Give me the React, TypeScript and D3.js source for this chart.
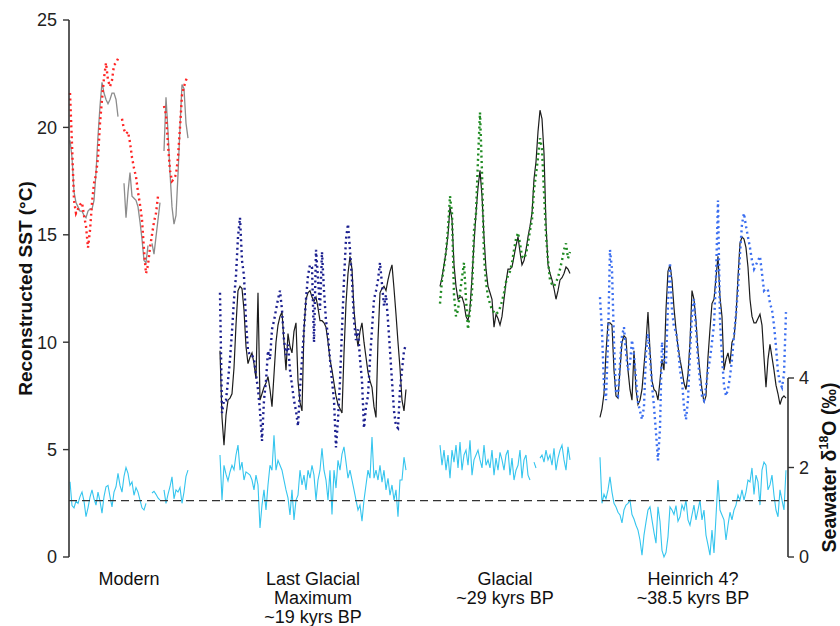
import * as d3 from "d3";

// Panels along the record (arbitrary record-position units, 0..100)
const panelLabels = [
  ["Modern"],
  ["Last Glacial", "Maximum", "~19 kyrs BP"],
  ["Glacial", "~29 kyrs BP"],
  ["Heinrich 4?", "~38.5 kyrs BP"],
];
const panelStart = [0.14, 21.0, 51.6, 73.85];
const panelEnd = [16.55, 46.87, 69.68, 99.72];

const sstTicks = [0, 5, 10, 15, 20, 25];
const d18Ticks = [0, 2, 4];
const referenceD18 = 1.26;

type V = number | null;

// Modern
const modernRed: V[] = [
  21.6, 19.2, 16.6, 16.0, 16.2, 16.4, 16.5, 15.9, 15.4, 14.4,
  15.2, 16.5, 17.4, 17.8, 18.6, 20.2, 21.3, 22.3, 23.0, 22.2,
  21.9, 22.2, 22.9, 23.0, 23.2, null, 20.4, 19.9, 19.7, 19.8,
  19.3, 18.6, 18.1, 17.7, 17.0, 16.4, 15.7, 14.3, 13.2, 13.6,
  14.4, 15.0, 15.6, 16.0, 16.8, null, null, 21.0, 20.6, 19.2,
  18.0, 17.5, 17.6, 17.8, 18.6, 20.0, 21.5, 21.9, 22.2, 22.4,
];
const modernGray: V[] = [
  19.4, 18.6, 17.0, 16.5, 16.3, 16.1, 16.1, 15.9, 15.8, 16.1,
  16.2, 16.2, 16.6, 17.9, 19.6, 21.0, 22.1, 21.6, 21.3, 21.1,
  21.3, 21.6, 21.6, 21.3, 20.5, null, null, 17.4, 15.8, 17.0,
  17.9, 16.8, 16.7, 16.6, 16.3, 15.6, 14.8, 13.8, 13.7, 14.5,
  null, 14.6, 14.1, 14.9, 15.7, 16.5, null, 18.9, 21.4, 19.8,
  17.9, 16.3, 15.5, 15.9, 17.8, 20.0, 22.0, 21.8, 20.2, 19.5,
];
const modernCyan: V[] = [
  1.68, 1.15, 1.1, 1.25, 1.2, 1.35, 1.45, 1.25, 0.9, 1.1,
  1.34, 1.5, 1.3, 1.16, 1.45, 1.25, 0.98, 1.35, 1.57, 1.6,
  1.35, 1.12, 1.45, 1.57, 1.87, 1.6, 1.45, 1.8, 2.0, 1.87,
  1.6, 1.68, 1.38, 1.55, 1.45, 1.27, 1.1, 1.05, 1.2, null,
  null, 1.43, 1.47, 1.4, 1.32, 1.27, null, 1.5, 1.2, 1.4,
  1.57, 1.79, 1.3, 1.5, 1.45, 1.55, 1.2, 1.45, 1.8, 1.94,
];

// Last Glacial Maximum
const lgmNavy: V[] = [
  12.3, 6.7, 7.3, 7.3, 8.2, 9.2, 10.5, 12.0, 13.1, 14.9,
  15.8, 13.8, 13.1, 11.0, 9.6, 9.4, 9.4, 9.2, 8.5, 7.8,
  6.8, 5.4, 7.3, 8.2, 9.6, 9.2, 10.6, 11.0, 11.5, 12.0,
  12.4, 11.5, 10.1, 9.4, 9.9, 8.7, 8.0, 7.3, 6.8, 6.1,
  7.8, 9.2, 10.6, 12.0, 13.1, 13.6, 13.5, 10.0, 14.3, 13.0,
  11.5, 14.2, 12.4, 11.0, 10.3, 9.2, 8.2, 7.3, 5.1, 6.4,
  8.2, 10.6, 12.9, 14.8, 15.5, 14.3, 12.9, 11.0, 10.1, 10.6,
  9.2, 8.2, 6.0, 7.0, 7.5, 9.2, 10.6, 12.0, 12.4, 12.9,
  13.7, 12.7, 11.7, 12.2, 11.0, 9.6, 8.2, 6.8, 6.1, 6.0,
  7.8, 8.7, 9.6, 9.9,
];
const lgmBlack: V[] = [
  9.6, 6.5, 5.2, 6.6, 7.3, 7.4, 7.6, 8.8, 10.8, 12.4,
  12.6, 12.5, 11.5, 9.8, 9.0, 9.3, 9.5, 9.0, 8.3, 12.3,
  7.3, 7.6, 7.9, 8.1, 8.4, 7.8, 7.0, 8.5, 10.0, 10.8,
  11.2, 11.4, 10.0, 8.7, 10.4, 9.8, 9.5, 10.5, 10.9, 8.2,
  7.2, 6.8, 10.6, 12.0, 12.3, 12.4, 12.1, 11.9, 12.1, 11.6,
  11.0, 11.0, 10.9, 10.7, 10.0, 9.2, 8.7, 8.1, 7.5, 7.1,
  6.9, 6.7, 9.5, 11.8, 13.2, 14.0, 13.4, 11.5, 10.5, 9.8,
  10.5, 10.9, 10.0, 9.3, 8.6, 8.2, 7.9, 7.0, 6.5, 10.1,
  12.3, 12.5, 12.6, 12.4, 12.9, 13.3, 13.6, 12.5, 11.3, 10.0,
  8.8, 7.3, 6.8, 7.8,
];
const lgmCyan: V[] = [
  2.28, 1.27, 2.05, 1.85, 1.7, 1.9, 2.05, 1.95, 2.28, 2.5,
  1.94, 2.12, 1.72, 1.9, 1.87, 1.83, 1.72, 1.5, 1.83, 1.61,
  0.65, 1.16, 1.5, 1.05, 1.61, 2.05, 1.94, 2.72, 1.94, 2.16,
  2.05, 1.94, 1.72, 1.5, 1.32, 0.94, 1.5, 0.83, 1.27, 1.38,
  1.94, 1.61, 1.83, 1.5, 1.94, 1.76, 2.05, 1.83, 1.27, 1.72,
  1.94, 2.43, 1.94, 1.72, 1.27, 1.94, 0.95, 1.94, 1.54, 2.16,
  1.94, 2.3, 2.46, 2.12, 1.76, 1.94, 1.72, 1.5, 1.27, 1.05,
  1.16, 0.8, 1.27, 1.61, 1.94, 1.76, 2.68, 1.76, 1.94, 1.72,
  2.05, 1.67, 1.94, 1.5, 1.76, 1.38, 1.61, 1.27, 1.5, 0.9,
  1.72, 1.72, 2.23, 1.94,
];

// Glacial ~29 kyrs BP
const glacialGreen: V[] = [
  11.8, 12.9, 13.5, 14.2, 15.3, 16.8, 16.0, 12.2, 11.2, 11.5,
  12.3, 13.0, 13.7, 12.0, 10.6, 11.5, 12.3, 15.2, 16.0, 18.5,
  20.7, 17.9, 14.0, 12.8, 12.1, 11.8, 11.5, 11.4, 11.3, 11.4,
  11.6, 11.9, 12.3, 12.8, 13.1, 13.3, 13.7, 14.3, 14.8, 15.1,
  14.6, 14.0, 13.9, 14.1, 14.6, 15.2, 15.7, 17.1, 17.8, 18.6,
  19.5, 19.0, 17.0, 15.0, 13.8, 12.9, 12.7, 12.6, 12.8, 13.0,
  13.4, 13.8, 14.3, 14.6, 13.9, 14.2,
];
const glacialBlack: V[] = [
  12.6, 13.0, 13.6, 14.2, 15.0, 16.3, 15.7, 13.6, 12.6, 12.0,
  12.1, 12.1, 11.8, 11.2, 11.0, 11.6, 13.0, 14.6, 16.0, 17.2,
  18.0, 16.8, 14.9, 13.4, 12.6, 12.3, 12.0, 10.7, 11.3, 11.1,
  10.8, 11.2, 12.0, 12.8, 13.4, 13.4, 13.5, 14.0, 14.5, 14.9,
  14.2, 13.6, 13.8, 14.3, 14.9, 15.4, 16.0, 17.6, 18.4, 19.8,
  20.8, 20.4, 18.8, 15.5, 13.6, 13.2, 12.9, 12.5, 12.0, 12.4,
  12.9, 13.0, 13.2, 13.5, 13.4, 13.2,
];
const glacialCyan: V[] = [
  2.5, 2.05, 2.39, 1.94, 2.28, 1.76, 2.39, 2.12, 2.5, 1.99,
  2.57, 1.94, 2.28, 2.39, 2.05, 2.61, 1.83, 2.17, 2.28, 2.39,
  2.17, 1.99, 2.5, 2.05, 2.17, 1.99, 2.39, 1.83, 2.21, 1.94,
  2.34, 2.17, 1.94, 2.28, 2.39, 1.83, 2.21, 1.72, 1.94, 2.05,
  2.39, 1.76, 2.17, 2.28, 1.83, 1.72, null, 2.12, 1.99, null,
  2.21, 2.28, 2.12, 2.39, 2.17, 2.28, 2.05, 2.43, 1.94, 2.21,
  2.39, 2.5, 2.17, 1.94, 2.46, 2.17,
];

// Heinrich 4? ~38.5 kyrs BP
const heinrichBlue: V[] = [
  12.1, 10.5, 8.0, 7.3, 10.0, 14.3, 13.4, 10.0, 7.6, 7.5,
  9.0, 10.3, 10.7, 9.5, 8.7, 9.0, 10.1, 9.4, 8.3, 7.2,
  6.8, 6.4, 7.0, 9.5, 10.4, 9.3, 8.0, 7.0, 5.8, 4.5,
  6.0, 10.0, 9.2, 9.0, 11.8, 13.7, 11.5, 10.7, 10.5, 9.8,
  8.7, 8.2, 7.0, 6.4, 7.3, 9.5, 11.3, 12.0, 10.6, 9.2,
  8.2, 7.5, 7.3, 7.9, 8.7, 9.2, 10.0, 10.8, 13.0, 16.6,
  11.0, 9.3, 8.0, 7.5, 7.8, 8.4, 9.2, 10.3, 11.3, 12.5,
  14.1, 15.5, 16.0, 15.4, 14.9, 14.4, 13.8, 13.4, 13.6, 13.8,
  14.0, 13.2, 12.4, 12.5, 12.4, 11.8, 11.5, 10.8, 9.8, 8.6,
  8.1, 7.9, 8.5, 11.4,
];
const heinrichBlack: V[] = [
  6.5, 6.9, 7.6, 9.5, 10.9, 10.9, 10.8, 8.7, 7.5, 7.4,
  8.7, 10.0, 10.3, 10.2, 8.7, 7.8, 7.3, 9.6, 7.8, 7.1,
  7.3, 7.8, 8.9, 10.0, 11.4, 9.6, 8.2, 7.8, 7.7, 7.3,
  8.2, 9.2, 8.7, 11.5, 13.3, 13.6, 12.9, 11.6, 10.6, 9.8,
  9.2, 8.7, 8.1, 7.8, 8.5, 10.0, 12.4, 12.0, 11.0, 9.6,
  8.6, 7.8, 7.2, 7.5, 9.3, 10.6, 11.8, 12.0, 13.0, 14.0,
  12.1, 11.2, 8.7, 9.2, 9.5, 9.0, 10.0, 10.2, 11.2, 13.0,
  14.6, 14.9, 14.8, 14.4, 13.5, 12.0, 11.2, 10.9, 10.9, 11.1,
  11.3, 10.8, 9.3, 7.9, 9.2, 9.9, 9.3, 8.7, 8.0, 7.6,
  7.1, 7.4, 7.5, 7.4,
];
const heinrichCyan: V[] = [
  2.23, 1.2, 1.4, 1.3, 1.5, 1.79, 1.45, 1.2, 1.12, 1.0,
  0.94, 0.76, 1.05, 1.16, 1.2, 1.27, 0.95, 0.85, 0.71, 0.6,
  0.38, 0.04, 0.49, 0.78, 1.05, 1.12, 0.83, 0.55, 0.31, 1.12,
  0.8, 0.15, 0.0, 0.1, 0.45, 1.12, 1.05, 0.95, 1.15, 0.8,
  0.9, 1.16, 1.05, 1.27, 0.83, 0.71, 0.94, 1.16, 0.83, 1.05,
  1.27, 0.83, 1.05, 0.49, 0.27, 0.04, 0.6, 0.09, 0.9, 1.72,
  1.05, 0.94, 0.83, 0.38, 0.71, 1.0, 0.83, 1.05, 1.16, 1.38,
  1.27, 1.5, 1.27, 1.45, 1.72, 1.68, 1.99, 1.4, 1.83, 1.68,
  1.16, 1.94, 2.12, 2.05, 1.5, 1.61, 1.83, 1.38, 1.05, 0.9,
  1.5, 1.27, 1.05, 1.94,
];

const W = 840;
const H = 626;
const FONT = "'Liberation Sans', Arial, sans-serif";

const x = d3.scaleLinear().domain([0, 100]).range([69, 788]);
const ySst = d3.scaleLinear().domain([0, 25]).range([557, 20]);
const yD18 = d3.scaleLinear().domain([0, 4]).range([557, 378]);

const CYAN = "#35c5ee";

// one series per panel, spread evenly over the panel's span
function seriesPath(values: V[], panel: number, y: d3.ScaleLinear<number, number>) {
  const pos = d3
    .scaleLinear()
    .domain([0, values.length - 1])
    .range([panelStart[panel], panelEnd[panel]]);
  const line = d3
    .line<V>()
    .defined((v) => v != null)
    .x((_, i) => x(pos(i)))
    .y((v) => y(v as number));
  return line(values) || "";
}

const sstSolid = [
  { values: modernGray, panel: 0, color: "#8c8c8c", width: 1.3 },
  { values: lgmBlack, panel: 1, color: "#1c1c1c", width: 1.2 },
  { values: glacialBlack, panel: 2, color: "#1c1c1c", width: 1.2 },
  { values: heinrichBlack, panel: 3, color: "#1c1c1c", width: 1.2 },
];
const sstDotted = [
  { values: modernRed, panel: 0, color: "#ff2424" },
  { values: lgmNavy, panel: 1, color: "#1b1f8f" },
  { values: glacialGreen, panel: 2, color: "#1f8a22" },
  { values: heinrichBlue, panel: 3, color: "#3b6ef0" },
];
const d18Series = [modernCyan, lgmCyan, glacialCyan, heinrichCyan];

export default function App() {
  return (
    <svg
      width={W}
      height={H}
      style={{ position: "absolute", left: 0, top: 0, background: "#fff" }}
      fontFamily={FONT}
    >
      {/* seawater d18O */}
      {d18Series.map((vals, i) => (
        <path key={"c" + i} d={seriesPath(vals, i, yD18)} fill="none" stroke={CYAN} strokeWidth={1.1} />
      ))}
      <line
        x1={x(0)}
        x2={x(100)}
        y1={yD18(referenceD18)}
        y2={yD18(referenceD18)}
        stroke="#333"
        strokeWidth={1.1}
        strokeDasharray="8 5"
      />

      {/* SST reconstructions */}
      {sstSolid.map((s, i) => (
        <path key={"s" + i} d={seriesPath(s.values, s.panel, ySst)} fill="none" stroke={s.color} strokeWidth={s.width} />
      ))}
      {sstDotted.map((s, i) => (
        <path
          key={"d" + i}
          d={seriesPath(s.values, s.panel, ySst)}
          fill="none"
          stroke={s.color}
          strokeWidth={2.4}
          strokeDasharray="2 3.4"
        />
      ))}

      {/* left axis */}
      <line x1={x(0)} x2={x(0)} y1={ySst(25)} y2={ySst(0)} stroke="#333" strokeWidth={1.6} />
      {sstTicks.map((t) => (
        <g key={"lt" + t} transform={`translate(${x(0)},${ySst(t)})`}>
          <line x1={-6} x2={0} stroke="#333" strokeWidth={1.4} />
          <text x={-12} dy="0.35em" textAnchor="end" fontSize={18} fill="#222">
            {t}
          </text>
        </g>
      ))}
      <text
        transform={`translate(32,${(ySst(25) + ySst(0)) / 2}) rotate(-90)`}
        textAnchor="middle"
        fontSize={19}
        fontWeight="bold"
        fill="#111"
      >
        Reconstructed SST (°C)
      </text>

      {/* right axis */}
      <line x1={x(100)} x2={x(100)} y1={yD18(4)} y2={yD18(0)} stroke="#333" strokeWidth={1.6} />
      {d18Ticks.map((t) => (
        <g key={"rt" + t} transform={`translate(${x(100)},${yD18(t)})`}>
          <line x1={0} x2={6} stroke="#333" strokeWidth={1.4} />
          <text x={11} dy="0.35em" textAnchor="start" fontSize={18} fill="#222">
            {t}
          </text>
        </g>
      ))}
      <text
        transform={`translate(836,${(yD18(4) + yD18(0)) / 2}) rotate(-90)`}
        textAnchor="middle"
        fontSize={19.5}
        fontWeight="bold"
        fill="#111"
      >
        Seawater δ
        <tspan fontSize={12.5} dy={-8}>
          18
        </tspan>
        <tspan dy={8}>O (‰)</tspan>
      </text>

      {/* panel labels */}
      {panelLabels.map((lines, i) => (
        <text
          key={"pl" + i}
          x={x((panelStart[i] + panelEnd[i]) / 2)}
          y={585}
          textAnchor="middle"
          fontSize={18}
          fill="#111"
        >
          {lines.map((l, j) => (
            <tspan key={j} x={x((panelStart[i] + panelEnd[i]) / 2)} dy={j === 0 ? 0 : 19}>
              {l}
            </tspan>
          ))}
        </text>
      ))}
    </svg>
  );
}
